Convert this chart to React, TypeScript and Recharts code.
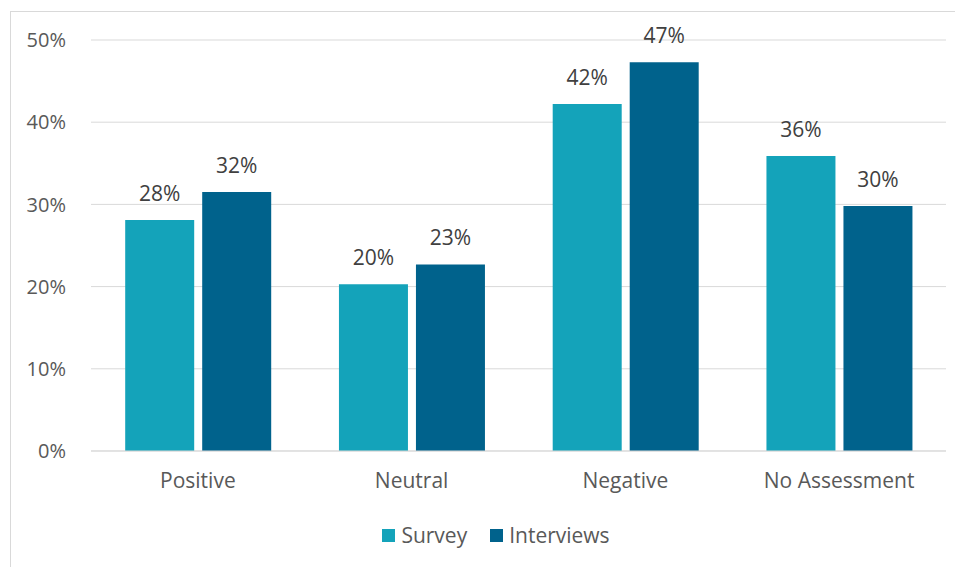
import React from 'react';
import { BarChart, Bar, XAxis, YAxis, CartesianGrid, Legend, LabelList } from 'recharts';

const categories = ['Positive', 'Neutral', 'Negative', 'No Assessment'];
const surveyValues = [0.281, 0.203, 0.422, 0.359];
const interviewValues = [0.315, 0.227, 0.473, 0.298];
const yTicks = [0, 0.1, 0.2, 0.3, 0.4, 0.5];

const SURVEY = '#14A3BA';
const INTERVIEWS = '#00628C';
const TEXT = '#595959';
const FONT = '"Open Sans", sans-serif';
const FS = 21;

const data = categories.map((name, i) => ({
  name,
  survey: surveyValues[i],
  interviews: interviewValues[i],
}));

const pct = (v: number) => `${Math.round(v * 100)}%`;

function LegendBox() {
  const items = [
    { label: 'Survey', color: SURVEY },
    { label: 'Interviews', color: INTERVIEWS },
  ];
  return (
    <div style={{ height: 30, paddingLeft: 35, display: 'flex', justifyContent: 'center', alignItems: 'center', gap: 23, fontFamily: FONT, fontSize: FS, color: TEXT }}>
      {items.map(it => (
        <div key={it.label} style={{ display: 'flex', alignItems: 'center', gap: 6 }}>
          <div style={{ width: 13, height: 13, backgroundColor: it.color }} />
          <span>{it.label}</span>
        </div>
      ))}
    </div>
  );
}

export default function App() {
  return (
    <div style={{ marginLeft: 2, marginTop: 3, width: 953, height: 556, borderTop: '1px solid #d9d9d9', borderLeft: '1px solid #d9d9d9', background: '#fff' }}>
      <BarChart
        width={952}
        height={555}
        data={data}
        margin={{ top: 28, right: 17, left: 0, bottom: 17 }}
        barCategoryGap="16%"
        barGap={8}
        style={{ fontFamily: FONT }}
      >
        <CartesianGrid vertical={false} stroke="#d9d9d9" />
        <XAxis
          dataKey="name"
          height={69}
          tickLine={false}
          tickMargin={16}
          stroke="#d9d9d9"
          tick={{ fill: TEXT, fontSize: FS }}
        />
        <YAxis
          width={80}
          domain={[0, 0.5]}
          ticks={yTicks}
          tickFormatter={pct}
          axisLine={false}
          tickLine={false}
          tickMargin={19}
          tick={{ fill: TEXT, fontSize: 20 }}
        />
        <Legend verticalAlign="bottom" height={30} content={<LegendBox />} />
        <Bar dataKey="survey" name="Survey" fill={SURVEY} isAnimationActive={false}>
          <LabelList dataKey="survey" position="top" offset={19} formatter={(v: any) => pct(Number(v))} fill="#404040" fontSize={FS} />
        </Bar>
        <Bar dataKey="interviews" name="Interviews" fill={INTERVIEWS} isAnimationActive={false}>
          <LabelList dataKey="interviews" position="top" offset={19} formatter={(v: any) => pct(Number(v))} fill="#404040" fontSize={FS} />
        </Bar>
      </BarChart>
    </div>
  );
}
